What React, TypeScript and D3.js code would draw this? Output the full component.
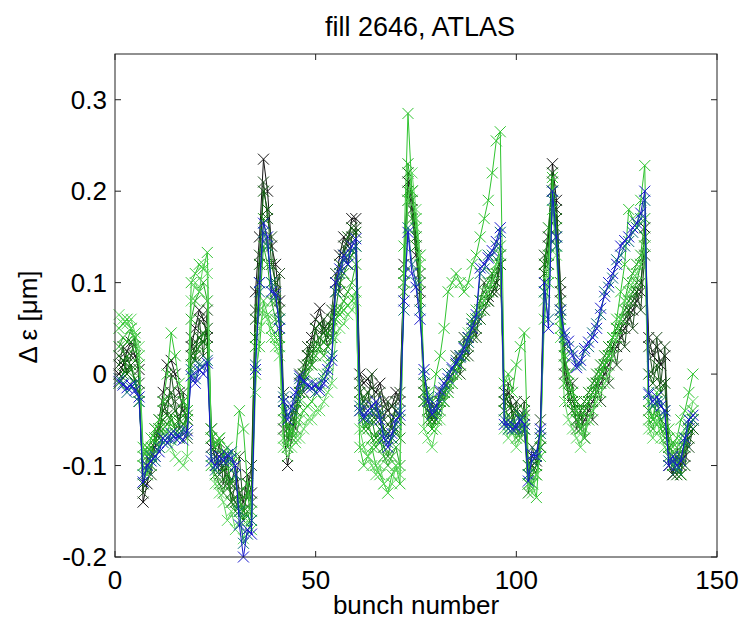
import React from "react";
import * as d3 from "d3";

// bunch numbers 1..144
const bunches: number[] = Array.from({ length: 144 }, (_, i) => i + 1);

const xTicks = [0, 50, 100, 150];
const yTicks = [-0.2, -0.1, 0, 0.1, 0.2, 0.3];
const yTickLabels = ["-0.2", "-0.1", "0", "0.1", "0.2", "0.3"];

const titleText = "fill 2646, ATLAS";
const xLabel = "bunch number";
const yLabel = "Δ ε [μm]";

const sBlack = [
  0.0, 0.01, 0.025, 0.035, 0.02, 0.005,
  -0.14, -0.12, -0.1, -0.08, -0.05, -0.02, 0.01, 0.015, 0.0, -0.02, -0.04, -0.05,
  0.03, 0.05, 0.07, 0.06, 0.04,
  -0.08, -0.09, -0.1, -0.085, -0.11, -0.12, -0.1, -0.13, -0.14, -0.11, -0.13,
  0.09, 0.15, 0.235, 0.2, 0.14, 0.12, 0.08,
  -0.06, -0.1, -0.07, -0.04, -0.02, 0.0, 0.02, 0.04, 0.06, 0.072, 0.05, 0.03, 0.04,
  0.1, 0.13, 0.15, 0.14, 0.17, 0.17,
  0.0, -0.01, -0.005, -0.015, -0.02, -0.01, -0.03, -0.04, -0.035, -0.02, -0.03,
  0.12, 0.21, 0.18, 0.13, 0.09,
  -0.02, -0.04, -0.05, -0.04, -0.03, -0.02, -0.01, 0.0, 0.01, 0.02, 0.03, 0.04, 0.05, 0.06,
  0.07, 0.08, 0.085, 0.09, 0.1, 0.13,
  -0.03, -0.02, -0.035, -0.04, -0.05, -0.045, -0.1, -0.09, -0.095, -0.07,
  0.12, 0.15, 0.23, 0.19, 0.09,
  0.0, -0.02, -0.04, -0.05, -0.06, -0.05, -0.04, -0.03, -0.02, -0.01, 0.0, 0.01, 0.02, 0.03, 0.04, 0.05, 0.06, 0.07, 0.08, 0.09, 0.16,
  0.04, 0.02, 0.03, 0.01, 0.02,
  -0.1, -0.11, -0.08, -0.1, -0.09, -0.06, -0.05,
];

const sOlive = [
  0.01, 0.03, 0.0, 0.02, 0.04, -0.01,
  -0.13, -0.09, -0.11, -0.06, -0.07, -0.03, -0.045, 0.0, -0.03, -0.06, -0.02, -0.07,
  0.04, 0.015, 0.06, 0.02, 0.07,
  -0.06, -0.1, -0.075, -0.12, -0.09, -0.14, -0.12, -0.09, -0.15, -0.13, -0.1,
  0.07, 0.13, 0.21, 0.17, 0.15, 0.09, 0.11,
  -0.02, -0.08, -0.04, -0.06, 0.0, -0.02, 0.03, 0.01, 0.05, 0.03, 0.06, 0.04, 0.07,
  0.11, 0.09, 0.14, 0.12, 0.15, 0.16,
  -0.01, -0.04, -0.03, 0.0, -0.04, -0.02, -0.05, -0.03, -0.06, -0.03, -0.02,
  0.11, 0.19, 0.2, 0.14, 0.08,
  -0.03, -0.05, -0.03, -0.05, -0.02, -0.03, 0.0, -0.01, 0.02, 0.0, 0.04, 0.02, 0.06, 0.04,
  0.08, 0.1, 0.08, 0.11, 0.09, 0.12,
  -0.04, -0.01, -0.05, -0.03, -0.06, -0.03, -0.11, -0.08, -0.1, -0.05,
  0.13, 0.12, 0.2, 0.18, 0.1,
  0.03, -0.03, -0.01, -0.06, -0.04, -0.07, -0.03, -0.05, -0.01, -0.03, 0.01, -0.01, 0.03, 0.01, 0.05, 0.03, 0.07, 0.05, 0.09, 0.07, 0.13,
  0.03, 0.0, 0.04, -0.01, 0.03,
  -0.08, -0.11, -0.09, -0.11, -0.07, -0.08, -0.06,
];

const sDarkGreen = [
  0.02, 0.015, 0.0, 0.01, -0.01, -0.02,
  -0.12, -0.1, -0.09, -0.07, -0.06, -0.04, -0.03, -0.02, -0.04, -0.05, -0.03, -0.04,
  0.02, 0.03, 0.04, 0.035, 0.05,
  -0.07, -0.08, -0.11, -0.1, -0.12, -0.13, -0.14, -0.15, -0.16, -0.12, -0.14,
  0.06, 0.12, 0.2, 0.18, 0.12, 0.1, 0.07,
  -0.03, -0.06, -0.05, -0.03, -0.01, 0.01, 0.02, 0.03, 0.05, 0.055, 0.045, 0.05, 0.06,
  0.09, 0.12, 0.13, 0.15, 0.16, 0.155,
  -0.02, -0.03, -0.02, -0.04, -0.05, -0.04, -0.06, -0.07, -0.05, -0.04, -0.05,
  0.1, 0.22, 0.19, 0.15, 0.11,
  -0.01, -0.03, -0.05, -0.04, -0.03, -0.02, -0.015, -0.01, 0.0, 0.01, 0.02, 0.03, 0.04, 0.05,
  0.06, 0.07, 0.08, 0.09, 0.1, 0.12,
  -0.02, -0.03, -0.04, -0.06, -0.07, -0.06, -0.12, -0.1, -0.11, -0.08,
  0.11, 0.14, 0.22, 0.17, 0.08,
  0.01, -0.01, -0.03, -0.04, -0.05, -0.04, -0.03, -0.02, -0.01, 0.0, 0.01, 0.02, 0.03, 0.04, 0.05, 0.06, 0.07, 0.08, 0.09, 0.1, 0.14,
  0.0, -0.01, 0.01, -0.02, -0.01,
  -0.09, -0.1, -0.11, -0.09, -0.1, -0.07, -0.06,
];

const sGreen = [
  -0.01, 0.0, 0.02, 0.005, -0.005, -0.03,
  -0.1, -0.11, -0.08, -0.075, -0.06, -0.05, -0.055, -0.045, -0.06, -0.05, -0.055, -0.045,
  0.01, 0.02, 0.03, 0.045, 0.03,
  -0.1, -0.11, -0.12, -0.13, -0.11, -0.14, -0.15, -0.13, -0.16, -0.15, -0.17,
  0.04, 0.1, 0.17, 0.14, 0.1, 0.08, 0.06,
  -0.04, -0.07, -0.06, -0.04, -0.02, 0.0, 0.01, 0.02, 0.03, 0.04, 0.035, 0.045, 0.05,
  0.07, 0.1, 0.11, 0.12, 0.13, 0.14,
  -0.03, -0.05, -0.06, -0.05, -0.07, -0.06, -0.08, -0.09, -0.07, -0.06, -0.07,
  0.09, 0.2, 0.17, 0.14, 0.1,
  -0.02, -0.04, -0.06, -0.05, -0.04, -0.03, -0.02, -0.01, 0.0, 0.01, 0.02, 0.035, 0.045, 0.06,
  0.07, 0.08, 0.09, 0.1, 0.11, 0.13,
  -0.03, -0.05, -0.06, -0.04, -0.05, -0.06, -0.13, -0.11, -0.1, -0.08,
  0.12, 0.16, 0.21, 0.16, 0.07,
  0.02, 0.0, -0.02, -0.03, -0.04, -0.03, -0.02, -0.01, 0.0, 0.01, 0.02, 0.03, 0.04, 0.05, 0.06, 0.07, 0.08, 0.09, 0.1, 0.12, 0.15,
  -0.04, -0.05, -0.03, -0.05, -0.06,
  -0.08, -0.1, -0.09, -0.11, -0.08, -0.06, -0.05,
];

const sMidGreen = [
  0.03, 0.04, 0.035, 0.05, 0.03, 0.01,
  -0.09, -0.08, -0.085, -0.07, -0.08, -0.06, -0.065, -0.05, -0.06, -0.07, -0.06, -0.05,
  0.06, 0.08, 0.09, 0.1, 0.08,
  -0.06, -0.08, -0.07, -0.09, -0.1, -0.12, -0.11, -0.14, -0.15, -0.13, -0.16,
  0.03, 0.07, 0.14, 0.12, 0.08, 0.06, 0.04,
  -0.05, -0.06, -0.07, -0.05, -0.03, -0.01, 0.0, 0.01, 0.02, 0.03, 0.02, 0.03, 0.04,
  0.06, 0.07, 0.08, 0.09, 0.1, 0.12,
  -0.04, -0.06, -0.05, -0.07, -0.08, -0.07, -0.09, -0.1, -0.09, -0.08, -0.1,
  0.11, 0.23, 0.2, 0.17, 0.13,
  -0.03, -0.05, -0.06, -0.045, -0.03, -0.02, -0.01, 0.0, 0.01, 0.02, 0.03, 0.04, 0.06, 0.07,
  0.08, 0.09, 0.1, 0.11, 0.12, 0.14,
  -0.04, -0.06, -0.05, -0.07, -0.06, -0.04, -0.12, -0.12, -0.11, -0.09,
  0.09, 0.13, 0.2, 0.15, 0.06,
  -0.01, -0.02, -0.04, -0.05, -0.06, -0.04, -0.03, -0.02, -0.01, 0.0, 0.01, 0.02, 0.04, 0.05, 0.06, 0.08, 0.1, 0.11, 0.12, 0.13, 0.17,
  -0.05, -0.06, -0.04, -0.06, -0.07,
  -0.07, -0.09, -0.1, -0.08, -0.07, -0.05, -0.04,
];

const sBrightGreen = [
  0.05, 0.055, 0.06, 0.05, 0.04, 0.02,
  -0.08, -0.09, -0.07, -0.06, -0.05, -0.03, 0.0, 0.045, 0.02, -0.01, -0.03, -0.04,
  0.1, 0.11, 0.12, 0.115, 0.133,
  -0.07, -0.08, -0.07, -0.09, -0.08, -0.1, -0.09, -0.04, -0.06, -0.12, -0.15,
  0.0, 0.03, 0.08, 0.065, 0.05, 0.04, 0.03,
  -0.07, -0.08, -0.06, -0.07, -0.05, -0.04, -0.035, -0.03, -0.02, -0.01, 0.0, 0.01, 0.02,
  0.06, 0.065, 0.07, 0.075, 0.08, 0.09,
  -0.08, -0.1, -0.09, -0.08, -0.1, -0.11, -0.12, -0.13, -0.11, -0.1, -0.12,
  0.14, 0.285, 0.2, 0.16, 0.12,
  0.0, -0.02, -0.03, 0.0, 0.02, 0.05, 0.09, 0.1, 0.11, 0.1, 0.09, 0.1, 0.12, 0.13,
  0.15, 0.17, 0.19, 0.22, 0.255, 0.265,
  -0.01, 0.0, -0.02, 0.01, 0.03, 0.045, -0.1, -0.12, -0.135, -0.07,
  0.06, 0.1, 0.215, 0.14, 0.05,
  0.02, 0.0, -0.02, -0.04, -0.06, -0.07, -0.05, -0.04, -0.02, 0.0, 0.01, 0.02, 0.04, 0.06, 0.09, 0.12, 0.18, 0.17, 0.16, 0.19, 0.228,
  -0.03, -0.05, -0.02, -0.06, -0.04,
  -0.06, -0.08, -0.07, -0.05, -0.04, -0.02, 0.0,
];

const sLightGreen = [
  0.065, 0.06, 0.055, 0.06, 0.045, 0.03,
  -0.1, -0.11, -0.1, -0.09, -0.08, -0.07, -0.06, -0.08, -0.09, -0.095, -0.1, -0.09,
  0.08, 0.1, 0.09, 0.12, 0.11,
  -0.1, -0.12, -0.13, -0.14, -0.16, -0.15, -0.17, -0.16, -0.18, -0.16, -0.17,
  -0.02, 0.05, 0.07, 0.06, 0.04, 0.03, 0.02,
  -0.08, -0.09, -0.08, -0.075, -0.07, -0.06, -0.05, -0.05, -0.04, -0.04, -0.03, -0.02, -0.01,
  0.04, 0.05, 0.055, 0.065, 0.07, 0.08,
  -0.06, -0.08, -0.09, -0.1, -0.11, -0.1, -0.12, -0.13, -0.12, -0.1, -0.11,
  0.1, 0.19, 0.22, 0.18, 0.13,
  -0.06, -0.07, -0.08, -0.06, -0.05, -0.03, -0.02, -0.01, 0.0, 0.02, 0.03, 0.045, 0.055, 0.06,
  0.07, 0.08, 0.09, 0.1, 0.12, 0.13,
  -0.06, -0.07, -0.06, -0.08, -0.07, -0.05, -0.12, -0.13, -0.11, -0.09,
  0.08, 0.11, 0.18, 0.13, 0.04,
  -0.03, -0.05, -0.06, -0.07, -0.08, -0.06, -0.05, -0.04, -0.03, -0.02, -0.01, 0.0, 0.02, 0.04, 0.06, 0.08, 0.09, 0.1, 0.11, 0.12, 0.14,
  -0.06, -0.07, -0.05, -0.07, -0.08,
  -0.09, -0.1, -0.08, -0.07, -0.06, -0.05, -0.03,
];

const sTeal = [
  -0.005, -0.01, -0.02, -0.015, -0.01, -0.03,
  -0.11, -0.105, -0.09, -0.095, -0.08, -0.075, -0.07, -0.072, -0.065, -0.07, -0.06, -0.066,
  0.005, -0.005, 0.01, 0.008, 0.015,
  -0.09, -0.105, -0.095, -0.09, -0.095, -0.085, -0.11, -0.15, -0.185, -0.175, -0.16,
  0.01, 0.09, 0.155, 0.14, 0.1, 0.085, 0.06,
  -0.025, -0.045, -0.04, -0.025, -0.005, -0.01, -0.015, -0.01, -0.02, -0.015, -0.005, 0.0, 0.02,
  0.09, 0.11, 0.125, 0.13, 0.135, 0.14,
  -0.035, -0.045, -0.05, -0.04, -0.035, -0.045, -0.065, -0.075, -0.07, -0.055, -0.04,
  0.07, 0.16, 0.12, 0.1, 0.07,
  0.0, -0.025, -0.04, -0.04, -0.025, -0.015, 0.0, 0.005, 0.015, 0.018, 0.03, 0.035, 0.055, 0.06,
  0.11, 0.115, 0.13, 0.13, 0.14, 0.155,
  -0.05, -0.06, -0.055, -0.06, -0.045, -0.06, -0.11, -0.095, -0.085, -0.065,
  0.09, 0.06, 0.19, 0.14, 0.065,
  0.04, 0.03, 0.025, 0.01, 0.01, 0.025, 0.03, 0.045, 0.055, 0.065, 0.09, 0.095, 0.105, 0.125, 0.13, 0.14, 0.145, 0.155, 0.16, 0.17, 0.19,
  -0.02, -0.035, -0.03, -0.03, -0.045,
  -0.095, -0.095, -0.105, -0.09, -0.075, -0.055, -0.05,
];

const sBlue = [
  -0.008, -0.012, -0.015, -0.012, -0.018, -0.025,
  -0.118, -0.1, -0.095, -0.09, -0.085, -0.07, -0.075, -0.065, -0.07, -0.068, -0.072, -0.062,
  -0.002, -0.01, 0.005, 0.0, 0.012,
  -0.095, -0.1, -0.09, -0.095, -0.088, -0.092, -0.1, -0.165, -0.2, -0.17, -0.175,
  0.005, 0.1, 0.165, 0.15, 0.09, 0.088, 0.05,
  -0.03, -0.05, -0.035, -0.02, -0.002, -0.008, -0.012, -0.015, -0.012, -0.018, -0.01, 0.005, 0.015,
  0.1, 0.115, 0.13, 0.12, 0.14, 0.148,
  -0.04, -0.048, -0.04, -0.035, -0.03, -0.05, -0.07, -0.08, -0.065, -0.05, -0.045,
  0.08, 0.155, 0.11, 0.095, 0.06,
  0.005, -0.03, -0.044, -0.035, -0.018, -0.01, -0.005, 0.007, 0.012, 0.02, 0.028, 0.04, 0.05, 0.065,
  0.116, 0.12, 0.127, 0.135, 0.145, 0.16,
  -0.055, -0.055, -0.06, -0.058, -0.05, -0.055, -0.117, -0.088, -0.09, -0.06,
  0.1, 0.05, 0.2, 0.15, 0.07,
  0.045, 0.036, 0.02, 0.007, 0.015, 0.028, 0.035, 0.04, 0.05, 0.072, 0.085, 0.1, 0.11, 0.12, 0.14, 0.146, 0.15, 0.16, 0.165, 0.176, 0.2,
  -0.022, -0.03, -0.025, -0.035, -0.04,
  -0.1, -0.09, -0.1, -0.095, -0.07, -0.05, -0.045,
];

const seriesValues = [sBlack, sOlive, sDarkGreen, sGreen, sMidGreen, sBrightGreen, sLightGreen, sTeal, sBlue];
const seriesColors = ["#151515", "#234f23", "#0b5a0b", "#168a16", "#22aa22", "#30c430", "#5cd85c", "#0d6f7a", "#1818cc"];

const W = 747;
const H = 631;
const left = 115;
const right = 717;
const top = 54;
const bottom = 557;

export default function App() {
  const x = d3.scaleLinear().domain([0, 150]).range([left, right]);
  const y = d3.scaleLinear().domain([-0.2, 0.35]).range([bottom, top]);
  const line = d3
    .line<number>()
    .x((_, i) => x(bunches[i]))
    .y((d) => y(d));
  const font = "'Liberation Sans', Arial, Helvetica, sans-serif";
  const m = 5.5;
  const tl = 6;
  return (
    <svg
      width={W}
      height={H}
      style={{ position: "absolute", left: 0, top: 0, background: "#fff" }}
      fontFamily={font}
    >
      <rect x={0} y={0} width={W} height={H} fill="#fff" />
      <g>
        {seriesValues.map((vals, si) => (
          <g key={si} stroke={seriesColors[si]} fill="none" strokeWidth={1}>
            <path d={line(vals) || ""} />
            {vals.map((v, i) => {
              const cx = x(bunches[i]);
              const cy = y(v);
              return (
                <path
                  key={i}
                  d={`M${cx - m},${cy - m}L${cx + m},${cy + m}M${cx - m},${cy + m}L${cx + m},${cy - m}`}
                />
              );
            })}
          </g>
        ))}
      </g>
      {/* axes box */}
      <rect x={left} y={top} width={right - left} height={bottom - top} fill="none" stroke="#222" strokeWidth={1} />
      {xTicks.map((t) => (
        <g key={"x" + t}>
          <line x1={x(t)} x2={x(t)} y1={bottom} y2={bottom - tl} stroke="#222" />
          <line x1={x(t)} x2={x(t)} y1={top} y2={top + tl} stroke="#222" />
          <text x={x(t)} y={589} fontSize={26} textAnchor="middle" fill="#000">
            {t}
          </text>
        </g>
      ))}
      {yTicks.map((t, i) => (
        <g key={"y" + t}>
          <line x1={left} x2={left + tl} y1={y(t)} y2={y(t)} stroke="#222" />
          <line x1={right} x2={right - tl} y1={y(t)} y2={y(t)} stroke="#222" />
          <text x={107} y={y(t) + 9} fontSize={26} textAnchor="end" fill="#000">
            {yTickLabels[i]}
          </text>
        </g>
      ))}
      <text x={(left + right) / 2} y={614} fontSize={26} textAnchor="middle" fill="#000">
        {xLabel}
      </text>
      <text
        transform={`translate(37, ${317}) rotate(-90)`}
        fontSize={26}
        textAnchor="middle"
        fill="#000"
      >
        {yLabel}
      </text>
      <text x={420} y={36} fontSize={27} textAnchor="middle" fill="#000">
        {titleText}
      </text>
    </svg>
  );
}
